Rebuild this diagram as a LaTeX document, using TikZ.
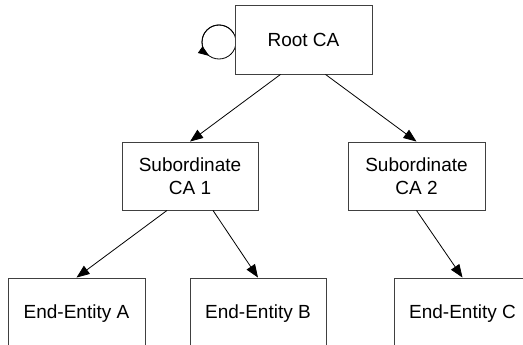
\documentclass[tikz,border=0pt]{standalone}
\usepackage{fontspec}
\setmainfont{Liberation Sans}
\usetikzlibrary{arrows.meta}
\begin{document}
\begin{tikzpicture}[x=1pt,y=-1pt,
  cabox/.style={draw=black!75, line width=0.9pt, fill=white, align=center,
    minimum width=137pt, minimum height=68pt, inner sep=0pt, text depth=0pt,
    font=\fontsize{19}{23}\selectfont},
  link/.style={draw=black, line width=0.8pt, -{Triangle[length=13pt,width=10pt]}}]
\clip (0,0) rectangle (523,345);

% self-signed loop beside the root
\coordinate (loopc) at (219,42);
\draw[line width=0.8pt] (loopc) circle[radius=17];
\draw[line width=0.8pt, -{Triangle[length=11pt,width=8pt]}]
  ([shift={(-30:17)}]loopc) arc[start angle=-30, end angle=-235, radius=17];

\node[cabox, minimum height=69pt] (root) at (303.5,39.5) {Root CA};
\node[cabox, minimum width=136pt] (sub1) at (190,176) {Subordinate\\CA 1};
\node[cabox] (sub2) at (416.5,176) {Subordinate\\CA 2};
\node[cabox] (eeA) at (76.5,312) {End-Entity A};
\node[cabox, minimum width=136pt] (eeB) at (258,312) {End-Entity B};
\node[cabox] (eeC) at (462.5,312) {End-Entity C};

\draw[link] ([xshift=-23pt]root.south) -- (sub1.north);
\draw[link] ([xshift=22pt]root.south) -- (sub2.north);
\draw[link] ([xshift=-23pt]sub1.south) -- (eeA.north);
\draw[link] ([xshift=23pt]sub1.south) -- (eeB.north);
\draw[link] (sub2.south) -- (eeC.north);
\end{tikzpicture}
\end{document}
